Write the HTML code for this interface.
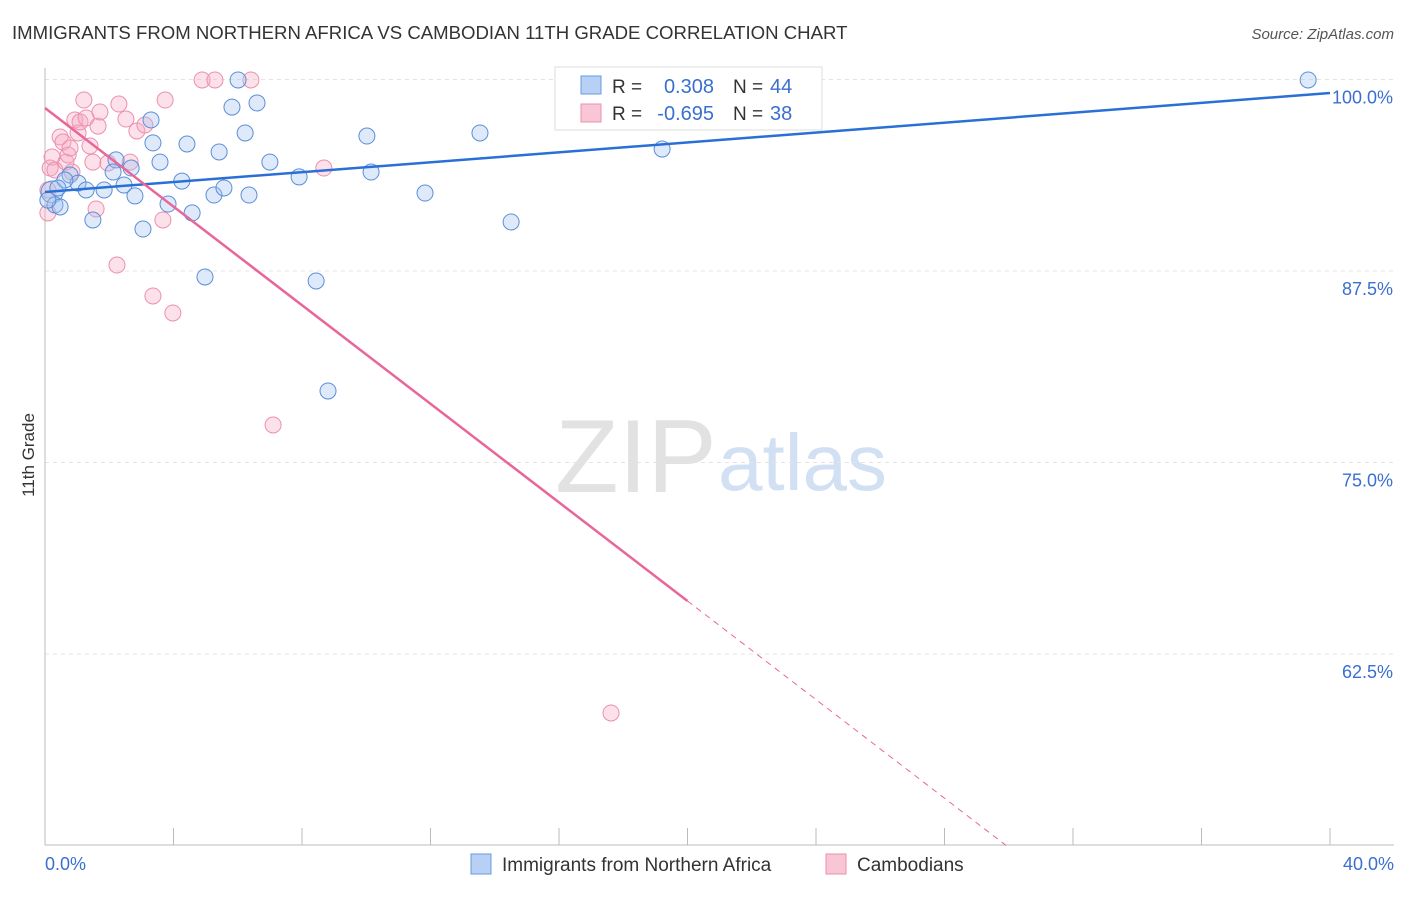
<!DOCTYPE html>
<html><head><meta charset="utf-8"><style>
body{margin:0;background:#fff;font-family:"Liberation Sans",sans-serif}
svg text{font-family:"Liberation Sans",sans-serif}
</style></head><body>
<svg width="1406" height="892" id="c">
<text x="12" y="39" font-size="18.6" fill="#333">IMMIGRANTS FROM NORTHERN AFRICA VS CAMBODIAN 11TH GRADE CORRELATION CHART</text>
<text x="1394" y="39" font-size="15" fill="#555" text-anchor="end" font-style="italic">Source: ZipAtlas.com</text>
<text x="34" y="455" font-size="17" fill="#333" text-anchor="middle" transform="rotate(-90 34 455)">11th Grade</text>
<text x="555" y="492" font-size="104" fill="#e2e2e2" font-family="Liberation Serif">ZIP</text>
<text x="718" y="490" font-size="80" fill="#d2e0f3">atlas</text>
<g id="grid"></g><g id="pts"></g><g id="lines"></g>
<g>
<rect x="555" y="67" width="267" height="63" fill="#fff" stroke="#ddd"/>
<rect x="581" y="76" width="20" height="18" fill="#b7d0f5" stroke="#6a9ae0"/>
<rect x="581" y="104" width="20" height="18" fill="#f9c6d5" stroke="#ec90ad"/>
<text x="612" y="93" font-size="19" fill="#333">R =</text>
<text x="714" y="93" font-size="20" fill="#3a6fd0" text-anchor="end">0.308</text>
<text x="733" y="93" font-size="19" fill="#333">N =</text>
<text x="770" y="93" font-size="20" fill="#3a6fd0">44</text>
<text x="612" y="120" font-size="19" fill="#333">R =</text>
<text x="714" y="120" font-size="20" fill="#3a6fd0" text-anchor="end">-0.695</text>
<text x="733" y="120" font-size="19" fill="#333">N =</text>
<text x="770" y="120" font-size="20" fill="#3a6fd0">38</text>
</g>
<g>
<rect x="471" y="854" width="20" height="20" fill="#b7d0f5" stroke="#6a9ae0"/>
<text x="502" y="871" font-size="19" fill="#333">Immigrants from Northern Africa</text>
<rect x="826" y="854" width="20" height="20" fill="#f9c6d5" stroke="#ec90ad"/>
<text x="857" y="871" font-size="19" fill="#333">Cambodians</text>
</g>
</svg>
<script>
const yTicks=[100,87.5,75,62.5];
const xTickLabels=["0.0%","40.0%"];
const bluePx=[[52,192],[55,205],[60,207],[70,175],[78,183],[86,190],[93,220],[104,190],[116,160],[113,172],[124,185],[131,168],[135,196],[143,229],[151,120],[153,143],[160,162],[168,204],[182,181],[187,144],[192,213],[205,277],[214,195],[219,152],[224,188],[232,107],[238,80],[245,133],[249,195],[257,103],[270,162],[299,177],[316,281],[328,391],[367,136],[371,172],[425,193],[480,133],[511,222],[662,149],[1308,80],[48,200],[65,180],[58,188]];
const pinkPx=[[48,213],[50,168],[52,157],[55,170],[60,137],[63,142],[66,162],[68,155],[70,148],[72,172],[75,120],[78,133],[80,122],[84,100],[86,118],[90,146],[93,162],[96,209],[98,126],[100,112],[108,163],[117,265],[119,104],[126,119],[130,162],[137,131],[145,125],[153,296],[163,220],[165,100],[173,313],[202,80],[215,80],[251,80],[273,425],[324,168],[611,713],[48,190]];
const blueX=bluePx.map(p=>+((p[0]-45)/32.125).toFixed(2)), blueY=bluePx.map(p=>+(100-(p[1]-79.5)/15.32).toFixed(2));
const pinkX=pinkPx.map(p=>+((p[0]-45)/32.125).toFixed(2)), pinkY=pinkPx.map(p=>+(100-(p[1]-79.5)/15.32).toFixed(2));
const blueFit=[92.66,99.12], pinkFit=[98.14,-1.609];
const X=v=>45+v*32.125, Y=v=>79.5+(100-v)*15.32;
const NS="http://www.w3.org/2000/svg";
function mk(t,a,p){const e=document.createElementNS(NS,t);for(const k in a)e.setAttribute(k,a[k]);p.appendChild(e);return e;}
const g=document.getElementById('grid');
yTicks.forEach(t=>{const l=mk('line',{x1:45,x2:1394,y1:Y(t),y2:Y(t),stroke:'#e4e4e4','stroke-dasharray':'4 4'},g);

const tx=mk('text',{x:1393,y:Y(t)+24,'font-size':18,fill:'#3a6fd0','text-anchor':'end'},g);tx.textContent=t.toFixed(1)+'%';
});
mk('line',{x1:45,x2:45,y1:68,y2:845,stroke:'#bbb'},g);
mk('line',{x1:45,x2:1394,y1:845,y2:845,stroke:'#bbb'},g);
for(let i=0;i<=10;i++){const t=mk('line',{x1:X(i*4),x2:X(i*4),y1:828,y2:845,stroke:'#bbb'},g);}
[[0,'start',45],[40,'end',1394]].forEach((d,i)=>{const t=mk('text',{x:d[2],y:870,'font-size':18,fill:'#3a6fd0','text-anchor':d[1]},g);t.textContent=xTickLabels[i];
});
const pg=document.getElementById('pts');
pinkX.forEach((x,i)=>{const c=mk('circle',{cx:X(x),cy:Y(pinkY[i]),r:8,fill:'rgba(245,170,195,0.35)',stroke:'#ec90ad','stroke-width':1},pg);
});
blueX.forEach((x,i)=>{const c=mk('circle',{cx:X(x),cy:Y(blueY[i]),r:i==0?11:8,fill:'rgba(160,195,240,0.35)',stroke:'#5b8ed8','stroke-width':1},pg);
});
const lg=document.getElementById('lines');
let b=mk('line',{x1:X(0),y1:Y(blueFit[0]),x2:X(40),y2:Y(blueFit[1]),stroke:'#2a6fd6','stroke-width':2.5},lg);

const pf=x=>pinkFit[0]+pinkFit[1]*x;
let p=mk('line',{x1:X(0),y1:Y(pf(0)),x2:X(20),y2:Y(pf(20)),stroke:'#e8669a','stroke-width':2.5},lg);

const xe=(50-pinkFit[0])/pinkFit[1];
let pd=mk('line',{x1:X(20),y1:Y(pf(20)),x2:X(xe),y2:Y(50),stroke:'#e8669a','stroke-width':1,'stroke-dasharray':'6 5'},lg);

</script>
</body></html>
